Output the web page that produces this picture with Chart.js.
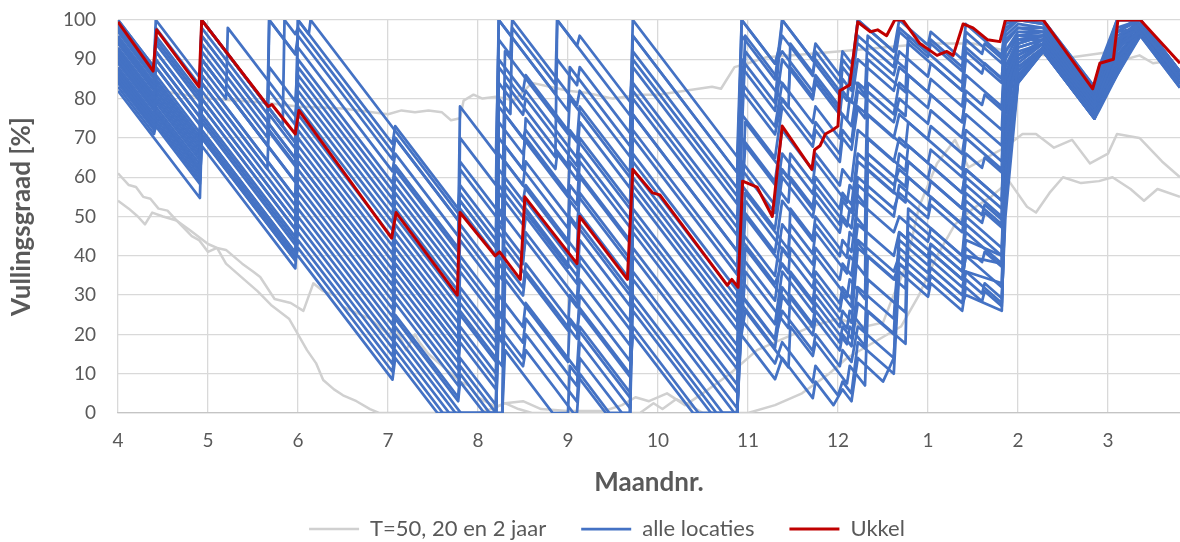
<!DOCTYPE html>
<html>
<head>
<meta charset="utf-8">
<script src="https://cdn.jsdelivr.net/npm/chart.js@4.4.0/dist/chart.umd.min.js"></script>
<style>
  html, body { margin: 0; padding: 0; background: #fff; }
</style>
</head>
<body>
<canvas id="vullingChart" width="1180" height="542"></canvas>
<script>
// Maanden: positie 0 = april (4) ... positie 11 = maart (3)
const maandLabels = ['4', '5', '6', '7', '8', '9', '10', '11', '12', '1', '2', '3'];

// Ukkel [maand, vullingsgraad %]
const ukkel = [[0,99.5],[0.39,87],[0.43,97.5],[0.90,83],[0.93,100],[1.67,78],[1.71,78.5],[1.97,71],[2.01,77],[3.04,44.5],[3.09,51],[3.77,30],[3.80,51],[4.19,40],[4.24,41],[4.47,34],[4.52,55],[5.10,38],[5.13,50],[5.66,34],[5.72,62],[5.94,56],[6.02,55.5],[6.77,32.5],[6.82,34],[6.89,32],[6.94,59],[7.10,57.5],[7.27,50],[7.38,73],[7.71,62],[7.74,67],[7.80,68],[7.86,71],[7.94,72],[8.00,73],[8.02,82],[8.13,83.5],[8.22,99.5],[8.36,97],[8.44,97.5],[8.54,96],[8.63,100],[8.72,100],[8.91,94],[9.10,91],[9.21,92],[9.28,91],[9.39,99],[9.50,98],[9.66,95],[9.80,94.5],[9.86,100],[10.28,100],[10.83,82.5],[10.91,89],[11.06,90],[11.11,100],[11.36,100],[11.80,89]];

// T=50, 20 en 2 jaar
const terugkeer50 = [[0,84],[0.3,83],[0.6,81.5],[1.0,80],[1.3,79.5],[1.6,79],[2.0,78],[2.5,77.5],[3.0,76],[3.15,77],[3.3,76.5],[3.45,77],[3.6,76.5],[3.7,74.5],[3.8,75],[3.84,79.5],[3.95,81],[4.05,80],[4.2,80.5],[4.4,79.5],[4.6,84],[4.8,83],[5.0,82],[5.2,81.5],[5.5,80],[5.8,81],[6.0,81],[6.3,82],[6.6,83],[6.7,82.5],[6.85,88],[7.0,89],[7.2,90.5],[7.5,91],[8.0,92],[8.5,93],[9.0,94],[9.5,94],[9.9,92],[10.3,91],[10.6,90.5],[10.9,91.5],[11.05,92],[11.2,90],[11.35,91],[11.5,89],[11.65,89.5],[11.8,87]];
const terugkeer20 = [[0,61],[0.12,58],[0.2,57.5],[0.28,55],[0.36,54.5],[0.45,52],[0.55,51.5],[0.65,49],[0.8,46.5],[1.0,43],[1.1,42],[1.2,41.5],[1.38,38],[1.5,36],[1.58,34.6],[1.74,29],[1.92,28],[2.06,26],[2.17,33],[2.28,31],[2.4,30],[2.5,27],[2.65,25.5],[2.8,24],[2.9,22],[3.0,20],[3.1,21],[3.2,16],[3.3,20],[3.35,18],[3.45,15],[3.6,12],[3.8,8],[3.9,7],[4.0,4],[4.2,1.5],[4.3,2.5],[4.5,3],[4.7,1],[5.0,0.5],[5.4,0.5],[5.6,2],[5.75,4],[5.9,3],[6.1,5],[6.3,2],[6.5,5],[6.8,10],[7.1,16],[7.4,19],[7.7,22],[8.0,24],[8.3,22],[8.5,23],[8.6,29],[8.75,37],[8.9,52.5],[9.1,63.5],[9.3,69.5],[9.45,62.5],[9.65,65],[9.85,67.5],[10.05,71],[10.2,71],[10.4,67.5],[10.6,69.5],[10.8,63.5],[11.0,66],[11.1,71],[11.35,70],[11.6,64],[11.8,60]];
const terugkeer2 = [[0,54],[0.12,52],[0.22,50],[0.3,48],[0.38,51],[0.5,50],[0.65,49],[0.82,45],[0.9,44],[1.0,41],[1.1,42],[1.2,38],[1.4,34],[1.55,31],[1.7,27.5],[1.9,24],[2.0,20],[2.1,16],[2.2,12.7],[2.28,8.4],[2.4,6],[2.5,4.5],[2.65,3],[2.8,1],[2.9,0],[4.0,0],[4.15,1],[4.3,2.5],[4.45,1],[4.6,0],[5.8,0],[5.95,2.5],[6.05,1],[6.2,3.5],[6.35,2],[6.5,0],[7.0,0],[7.3,2],[7.6,5],[7.9,10],[8.1,14],[8.4,18],[8.7,22],[8.9,30],[9.1,40],[9.3,48],[9.5,52],[9.7,55],[9.9,59],[10.1,52.5],[10.2,51],[10.35,56],[10.5,60],[10.7,58.5],[10.9,59],[11.05,60],[11.25,57],[11.4,54],[11.55,57],[11.8,55]];

// alle locaties
const alleLocaties = [
  [[0,100],[0.40,88],[0.42,100],[0.91,85.3],[0.93,100],[1.97,68.8],[2.00,100],[3.05,68.5],[3.08,73],[3.78,52],[3.80,58],[4.20,46],[4.23,100],[4.86,81.1],[4.88,90],[5.10,83.4],[5.13,88],[5.69,71.2],[5.72,100],[6.88,65.2],[6.93,100],[7.30,88.9],[7.38,96],[7.72,85.8],[7.75,92],[8.02,83.9],[8.05,90],[8.15,87],[8.22,100],[8.62,92],[8.68,100],[9.0,93.6],[9.03,97],[9.38,90],[9.42,99],[9.82,91],[9.86,100],[10.28,100],[10.85,82.9],[10.9,88],[11.1,100],[11.36,100],[11.8,86.8]],
  [[0,98],[0.40,86],[0.42,92],[0.91,77.3],[0.93,100],[1.66,78.1],[1.68,100],[1.97,91.3],[2.00,93],[3.05,61.5],[3.08,66],[3.78,45],[3.80,78],[4.20,66],[4.23,95],[4.36,91.1],[4.38,100],[4.86,85.6],[5.10,78.4],[5.13,82],[5.69,65.2],[5.72,90],[6.88,55.2],[6.93,100],[7.30,88.9],[7.38,92],[7.72,81.8],[7.75,86],[8.02,77.9],[8.05,85],[8.15,82],[8.22,96],[8.62,88],[8.68,97],[9.0,90.6],[9.03,94],[9.38,87],[9.42,95],[9.6,91.4],[9.63,94],[9.82,90.2],[9.86,99],[10.0,100],[10.28,99],[10.85,81.9],[10.9,86],[11.1,97],[11.3,100],[11.8,85]],
  [[0,96],[0.40,84],[0.42,88],[0.91,73.3],[0.93,96],[1.97,64.8],[2.00,100],[2.12,96.4],[2.14,100],[3.05,72.7],[3.78,50.8],[3.80,56],[4.20,44],[4.23,80],[4.36,76.1],[4.38,98],[4.86,83.6],[4.88,100],[5.10,93.4],[5.69,75.7],[5.72,96],[6.88,61.2],[6.93,96],[7.30,84.9],[7.38,100],[7.72,89.8],[8.02,80.8],[8.05,88],[8.15,85],[8.22,100],[8.62,92],[8.68,98],[9.0,91.6],[9.03,95],[9.38,88],[9.42,97],[9.82,89],[9.86,98],[10.0,100],[10.28,100],[10.85,82.9],[11.1,100],[11.3,100],[11.8,85]],
  [[0,95],[0.40,83],[0.42,90],[0.91,75.3],[0.93,92],[1.66,70.1],[1.68,100],[1.97,91.3],[2.00,96],[3.05,64.5],[3.08,70],[3.78,49],[3.80,54],[4.20,42],[4.23,70],[4.50,61.9],[4.53,75],[4.86,65.1],[4.88,100],[5.10,93.4],[5.13,96],[5.69,79.2],[5.72,88],[6.88,53.2],[6.93,90],[7.30,78.9],[7.38,100],[7.72,89.8],[7.75,94],[8.02,85.9],[8.05,92],[8.15,89],[8.22,94],[8.62,86],[8.68,92],[9.0,85.6],[9.03,89],[9.38,82],[9.42,90],[9.6,86.4],[9.63,89],[9.82,85.2],[9.86,95],[10.0,98],[10.28,97],[10.85,79.9],[10.9,85],[11.1,96],[11.36,99],[11.8,85.8]],
  [[0,93],[0.40,81],[0.42,86],[0.91,71.3],[0.93,88],[1.20,79.9],[1.22,98],[1.97,75.5],[2.00,82],[3.05,50.5],[3.08,56],[3.78,35],[3.80,52],[4.20,40],[4.23,90],[4.50,81.9],[4.53,86],[4.86,76.1],[5.10,68.9],[5.13,78],[5.69,61.2],[5.72,96],[6.88,61.2],[6.93,88],[7.30,76.9],[7.38,90],[7.72,79.8],[7.75,84],[8.02,75.9],[8.05,82],[8.15,79],[8.22,90],[8.62,82],[8.68,88],[9.0,81.6],[9.03,85],[9.38,78],[9.42,86],[9.82,78],[9.86,94],[10.0,98],[10.28,98],[10.85,80.9],[10.9,84],[11.1,97],[11.36,98],[11.8,84.8]],
  [[0,92],[0.40,80],[0.42,84],[0.91,69.3],[0.93,100],[1.66,78.1],[1.68,82],[1.97,73.3],[2.00,80],[3.05,48.5],[3.08,54],[3.78,33],[3.80,40],[4.20,28],[4.23,62],[4.50,53.9],[4.53,58],[4.86,48.1],[5.10,40.9],[5.13,60],[5.69,43.2],[5.72,92],[6.88,57.2],[6.93,84],[7.30,72.9],[7.38,84],[7.72,73.8],[7.75,78],[8.02,69.9],[8.05,76],[8.15,73],[8.22,84],[8.62,76],[8.68,84],[9.0,77.6],[9.03,81],[9.38,74],[9.42,82],[9.6,78.4],[9.63,81],[9.82,77.2],[9.86,92],[10.0,96],[10.28,96],[10.85,78.9],[10.9,83],[11.1,95],[11.36,98],[11.8,84.8]],
  [[0,90],[0.40,78],[0.42,83],[0.91,68.3],[0.93,86],[1.97,54.8],[2.00,72],[3.05,40.5],[3.08,46],[3.78,25],[3.80,30],[4.20,18],[4.23,84],[4.50,75.9],[4.53,80],[4.86,70.1],[5.10,62.9],[5.13,70],[5.69,53.2],[5.72,82],[6.88,47.2],[6.93,76],[7.30,64.9],[7.38,78],[7.72,67.8],[7.75,72],[8.02,63.9],[8.05,70],[8.15,67],[8.22,78],[8.62,70],[8.68,76],[9.0,69.6],[9.03,73],[9.38,66],[9.42,72],[9.82,64],[9.86,88],[10.0,95],[10.28,95],[10.85,77.9],[10.9,81],[11.1,93],[11.36,97],[11.8,83.8]],
  [[0,89],[0.40,77],[0.42,80],[0.91,65.3],[0.93,82],[1.97,50.8],[2.00,66],[3.05,34.5],[3.08,40],[3.78,19],[3.80,36],[4.20,24],[4.23,74],[4.50,65.9],[4.53,70],[4.86,60.1],[5.10,52.9],[5.13,64],[5.69,47.2],[5.72,70],[6.88,35.2],[6.93,70],[7.30,58.9],[7.38,72],[7.72,61.8],[7.75,66],[8.02,57.9],[8.05,62],[8.15,59],[8.22,72],[8.62,64],[8.68,70],[9.0,63.6],[9.03,67],[9.38,60],[9.42,66],[9.6,62.4],[9.63,65],[9.82,61.2],[9.86,85],[10.0,93],[10.28,95],[10.85,77.9],[10.9,80],[11.1,90],[11.36,97],[11.8,83.8]],
  [[0,88],[0.40,76],[0.42,79],[0.91,64.3],[0.93,78],[1.97,46.8],[2.00,60],[3.05,28.5],[3.08,34],[3.78,13],[3.80,20],[4.20,8],[4.23,66],[4.50,57.9],[4.53,64],[4.86,54.1],[5.10,46.9],[5.13,56],[5.69,39.2],[5.72,62],[6.88,27.2],[6.93,64],[7.30,52.9],[7.38,66],[7.72,55.8],[7.75,60],[8.02,51.9],[8.05,56],[8.15,53],[8.22,66],[8.62,58],[8.68,62],[9.0,55.6],[9.03,59],[9.38,52],[9.42,58],[9.82,50],[9.86,82],[10.0,92],[10.28,94],[10.85,76.9],[10.9,80],[11.1,89],[11.36,98],[11.8,84.8]],
  [[0,87],[0.40,75],[0.42,77],[0.91,62.3],[0.93,75],[1.97,43.8],[2.00,56],[3.05,24.5],[3.08,30],[3.78,9],[3.80,14],[4.20,2],[4.23,56],[4.50,47.9],[4.53,54],[4.86,44.1],[5.10,36.9],[5.13,48],[5.69,31.2],[5.72,56],[6.88,21.2],[6.93,58],[7.30,46.9],[7.38,60],[7.72,49.8],[7.75,54],[8.02,45.9],[8.05,50],[8.15,47],[8.22,60],[8.62,52],[8.68,56],[9.0,49.6],[9.03,53],[9.38,46],[9.42,52],[9.6,48.4],[9.63,51],[9.82,47.2],[9.86,78],[10.0,90],[10.28,94],[10.85,76.9],[10.9,79],[11.1,88],[11.36,98],[11.8,84.8]],
  [[0,86],[0.40,74],[0.42,76],[0.91,61.3],[0.93,72],[1.97,40.8],[2.00,52],[3.05,20.5],[3.08,25],[3.78,4],[3.80,10],[4.13,0],[4.20,0],[4.23,46],[4.50,37.9],[4.53,46],[4.86,36.1],[5.10,28.9],[5.13,40],[5.69,23.2],[5.72,50],[6.88,15.2],[6.93,52],[7.30,40.9],[7.38,54],[7.72,43.8],[7.75,48],[8.02,39.9],[8.05,44],[8.15,41],[8.22,54],[8.62,46],[8.68,50],[9.0,43.6],[9.03,47],[9.38,40],[9.42,46],[9.82,38],[9.86,70],[10.0,88],[10.28,93],[10.85,75.9],[10.9,78],[11.1,87],[11.36,97],[11.8,83.8]],
  [[0,85],[0.40,73],[0.42,75],[0.91,60.3],[0.93,74],[1.97,42.8],[2.00,46],[3.05,14.5],[3.08,20],[3.75,0],[4.20,0],[4.23,38],[4.50,29.9],[4.53,36],[4.86,26.1],[5.10,18.9],[5.13,30],[5.69,13.2],[5.72,42],[6.88,7.2],[6.93,46],[7.30,34.9],[7.38,48],[7.72,37.8],[7.75,42],[8.02,33.9],[8.05,38],[8.15,35],[8.22,48],[8.62,40],[8.68,46],[9.0,39.6],[9.03,43],[9.38,36],[9.42,42],[9.6,38.4],[9.63,41],[9.82,37.2],[9.86,62],[10.0,86],[10.28,93],[10.85,75.9],[10.9,79],[11.1,88],[11.36,99],[11.8,85.8]],
  [[0,84],[0.40,72],[0.42,74],[0.91,59.3],[0.93,71],[1.97,39.8],[2.00,40],[3.05,8.5],[3.08,14],[3.55,0],[4.20,0],[4.23,30],[4.50,21.9],[4.53,28],[4.86,18.1],[5.10,10.9],[5.13,22],[5.69,5.2],[5.72,36],[6.88,1.2],[6.92,40],[7.30,28.6],[7.38,42],[7.72,31.8],[7.75,36],[8.02,27.9],[8.05,32],[8.15,29],[8.22,44],[8.62,36],[8.68,40],[9.0,33.6],[9.03,37],[9.38,30],[9.42,36],[9.82,28],[9.86,55],[10.0,85],[10.28,92],[10.85,74.9],[10.9,78],[11.1,86],[11.36,96],[11.8,82.8]],
  [[0,82],[0.91,54.7],[0.93,70],[1.97,38.8],[2.00,44],[3.05,12.5],[3.08,18],[3.68,0],[4.20,0],[4.23,22],[4.50,13.9],[4.53,20],[4.86,10.1],[5.10,2.9],[5.13,14],[5.60,0],[5.69,0],[5.72,28],[6.65,0],[6.88,0],[6.92,34],[7.30,22.6],[7.38,36],[7.72,25.8],[7.75,30],[8.02,21.9],[8.05,26],[8.15,23],[8.22,42],[8.62,34],[8.68,38],[9.0,31.6],[9.03,35],[9.38,28],[9.42,34],[9.6,30.4],[9.63,33],[9.82,29.2],[9.86,50],[10.0,84],[10.28,92],[10.85,74.9],[10.9,77],[11.1,86],[11.36,97],[11.8,83.8]],
  [[0,91],[0.40,79],[0.42,82],[0.91,67.3],[0.93,80],[1.97,48.8],[2.00,62],[3.05,30.5],[3.08,36],[3.78,15],[3.80,22],[4.20,10],[4.23,40],[4.50,31.9],[4.53,38],[4.86,28.1],[5.10,20.9],[5.13,26],[5.69,9.2],[5.72,22],[6.45,0],[6.88,0],[6.92,30],[7.30,18.6],[7.38,26],[7.72,15.8],[7.75,20],[8.02,11.9],[8.05,16],[8.15,13],[8.22,22],[8.62,14],[8.68,38],[9.0,31.6],[9.03,35],[9.38,28],[9.42,30],[9.82,26],[9.86,60],[10.0,85],[10.28,93],[10.85,75.9],[10.9,80],[11.1,89],[11.36,98],[11.8,84.8]],
  [[0,94],[0.40,82],[0.42,85],[0.91,70.3],[0.93,84],[1.97,52.8],[2.00,70],[3.05,38.5],[3.08,44],[3.78,23],[3.80,28],[4.20,16],[4.23,48],[4.50,39.9],[4.53,44],[4.86,34.1],[5.10,26.9],[5.13,34],[5.69,17.2],[5.72,30],[6.72,0],[6.88,0],[6.92,24],[7.30,12.6],[7.38,18],[7.72,7.8],[7.75,12],[8.0,4.5],[8.05,8],[8.15,5],[8.22,18],[8.62,10],[8.68,36],[9.0,29.6],[9.03,33],[9.38,26],[9.42,32],[9.6,28.4],[9.63,31],[9.82,27.2],[9.86,56],[10.0,84],[10.28,92],[10.85,74.9],[10.9,78],[11.1,87],[11.36,97],[11.8,83.8]],
  [[0,97],[0.40,85],[0.42,95],[0.91,80.3],[0.93,100],[1.83,73],[1.85,100],[1.97,96.4],[2.00,98],[3.05,66.5],[3.08,70],[3.78,49],[3.80,54],[4.20,42],[4.23,58],[4.50,49.9],[4.53,52],[4.86,42.1],[5.10,34.9],[5.13,38],[5.69,21.2],[5.72,26],[6.59,0],[6.88,0],[6.92,20],[7.30,8.6],[7.38,14],[7.72,3.8],[7.75,8],[7.95,2],[8.05,6],[8.15,3],[8.22,14],[8.50,8],[8.62,14],[8.68,42],[9.0,35.6],[9.03,39],[9.38,32],[9.42,36],[9.82,33],[9.86,66],[10.0,90],[10.28,94],[10.85,76.9],[10.9,81],[11.1,90],[11.36,98],[11.8,84.8]],
  [[0,99],[0.40,87],[0.42,98],[0.91,83.3],[0.93,90],[1.97,58.8],[2.00,64],[3.05,32.5],[3.08,38],[3.78,17],[3.80,25],[4.20,13],[4.23,20],[4.50,11.9],[4.53,16],[4.86,6.1],[5.06,0],[5.10,0],[5.13,10],[5.46,0],[5.69,0],[5.72,60],[6.88,25.2],[6.93,30],[7.30,18.9],[7.38,32],[7.72,21.8],[7.75,26],[8.02,17.9],[8.05,22],[8.15,19],[8.22,32],[8.62,24],[8.68,44],[9.0,37.6],[9.03,41],[9.38,34],[9.42,40],[9.82,38],[9.86,72],[10.0,94],[10.28,96],[10.85,78.9],[10.9,82],[11.1,93],[11.36,99],[11.8,85.8]],
  [[0,91.5],[0.40,79.5],[0.42,81],[0.91,66.3],[0.93,90],[1.66,68.1],[1.68,72],[1.97,63.3],[2.00,76],[3.05,44.5],[3.08,50],[3.78,29],[3.80,44],[4.20,32],[4.23,88],[4.50,79.9],[4.53,82],[4.86,72.1],[5.10,64.9],[5.13,74],[5.69,57.2],[5.72,76],[6.88,41.2],[6.93,82],[7.30,70.9],[7.38,80],[7.72,69.8],[7.75,74],[8.02,65.9],[8.05,72],[8.15,69],[8.22,82],[8.62,74],[8.68,80],[9.0,73.6],[9.03,77],[9.38,70],[9.42,76],[9.82,68],[9.86,90],[10.0,96],[10.28,97],[10.85,79.9],[10.9,84],[11.1,94],[11.36,99],[11.8,85.8]],
  [[0,86.5],[0.40,74.5],[0.42,78],[0.91,63.3],[0.93,76],[1.97,44.8],[2.00,58],[3.05,26.5],[3.08,32],[3.78,11],[3.80,18],[4.20,6],[4.23,52],[4.50,43.9],[4.53,50],[4.86,40.1],[5.10,32.9],[5.13,44],[5.69,27.2],[5.72,46],[6.88,11.2],[6.93,44],[7.30,32.9],[7.38,38],[7.72,27.8],[7.75,34],[8.02,25.9],[8.05,30],[8.15,27],[8.22,58],[8.62,50],[8.68,58],[9.0,51.6],[9.03,55],[9.38,48],[9.42,54],[9.6,50.4],[9.63,53],[9.82,49.2],[9.86,80],[10.0,91],[10.28,94],[10.85,76.9],[10.9,80],[11.1,90],[11.36,98],[11.8,84.8]],
  [[0,97.5],[0.40,85.5],[0.42,90],[0.91,75.3],[0.93,94],[1.97,62.8],[2.00,88],[3.05,56.5],[3.08,62],[3.78,41],[3.80,46],[4.20,34],[4.23,78],[4.50,69.9],[4.53,72],[4.86,62.1],[4.88,66],[5.10,59.4],[5.13,66],[5.69,49.2],[5.72,76],[6.88,41.2],[6.93,62],[7.30,50.9],[7.38,62],[7.72,51.8],[7.75,56],[8.02,47.9],[8.05,54],[8.15,51],[8.22,64],[8.62,56],[8.68,66],[9.0,59.6],[9.03,63],[9.38,56],[9.42,62],[9.82,54],[9.86,86],[10.0,95],[10.28,96],[10.85,78.9],[10.9,83],[11.1,94],[11.36,100],[11.8,86.8]],
  [[0,83],[0.40,71],[0.42,73],[0.91,58.3],[0.93,70],[1.97,38.8],[2.00,42],[3.05,10.5],[3.08,16],[3.61,0],[4.20,0],[4.23,26],[4.50,17.9],[4.53,24],[4.86,14.1],[5.10,6.9],[5.13,18],[5.69,1.2],[5.72,34],[6.85,0],[6.88,0],[6.92,28],[7.30,16.6],[7.38,30],[7.72,19.8],[7.75,24],[8.02,15.9],[8.05,20],[8.15,17],[8.22,28],[8.62,20],[8.68,46],[9.0,39.6],[9.03,43],[9.38,36],[9.42,44],[9.82,40],[9.86,64],[10.0,87],[10.28,93],[10.85,75.9],[10.9,79],[11.1,88],[11.36,97],[11.8,83.8]],
  [[0,100],[0.40,88],[0.42,94],[0.91,79.3],[0.93,98],[1.66,76.1],[1.68,88],[1.97,79.3],[2.00,90],[3.05,58.5],[3.08,63],[3.78,42],[3.80,64],[4.27,49.9],[4.30,92],[4.86,75.2],[5.0,71],[5.02,80],[5.69,59.9],[5.72,84],[6.88,49.2],[6.97,96],[7.45,81.6],[7.47,88],[7.72,80.5],[7.75,85],[8.10,74.5],[8.13,80],[8.30,75],[8.33,90],[8.75,81.6],[8.78,96],[9.38,84],[9.42,93],[9.82,85],[9.86,97],[10.0,100],[10.28,99],[10.85,81.9],[10.9,87],[11.1,98],[11.36,100],[11.8,86.8]],
  [[0,94.5],[0.40,82.5],[0.42,84],[0.91,69.3],[0.93,86],[1.97,54.8],[2.00,68],[3.05,36.5],[3.08,42],[3.78,21],[3.80,26],[4.27,11.9],[4.30,58],[4.86,41.2],[5.0,37],[5.02,50],[5.69,29.9],[5.72,52],[6.88,17.2],[6.97,50],[7.45,35.6],[7.47,42],[7.72,34.5],[7.75,40],[8.10,29.5],[8.13,34],[8.30,29],[8.33,62],[8.75,53.6],[8.78,60],[9.38,48],[9.42,56],[9.82,48],[9.86,76],[10.0,91],[10.28,95],[10.85,77.9],[10.9,81],[11.1,91],[11.36,98],[11.8,84.8]],
  [[0,89.5],[0.40,77.5],[0.42,80],[0.91,65.3],[0.93,80],[1.97,48.8],[2.00,64],[3.05,32.5],[3.08,38],[3.78,17],[3.80,32],[4.27,17.9],[4.30,68],[4.86,51.2],[5.0,47],[5.02,58],[5.69,37.9],[5.72,66],[6.88,31.2],[6.97,56],[7.45,41.6],[7.47,48],[7.72,40.5],[7.75,46],[8.10,35.5],[8.13,40],[8.30,35],[8.33,70],[8.75,61.6],[8.78,68],[9.38,56],[9.42,62],[9.82,54],[9.86,84],[10.0,94],[10.28,96],[10.85,78.9],[10.9,82],[11.1,92],[11.36,99],[11.8,85.8]],
  [[0,87.5],[0.40,75.5],[0.42,77],[0.91,62.3],[0.93,78],[1.97,46.8],[2.00,54],[3.05,22.5],[3.08,28],[3.78,7],[3.80,12],[4.20,0],[4.27,0],[4.30,34],[4.86,17.2],[5.0,13],[5.02,24],[5.69,3.9],[5.72,40],[6.88,5.2],[6.97,36],[7.45,21.6],[7.47,30],[7.72,22.5],[7.75,28],[8.10,17.5],[8.13,22],[8.30,17],[8.33,40],[8.75,31.6],[8.78,50],[9.38,38],[9.42,48],[9.82,40],[9.86,68],[10.0,89],[10.28,94],[10.85,76.9],[10.9,80],[11.1,89],[11.36,98],[11.8,84.8]],
  [[0,98.5],[0.40,86.5],[0.42,96],[0.91,81.3],[0.93,100],[1.97,68.8],[2.00,84],[3.05,52.5],[3.08,58],[3.78,37],[3.80,70],[4.20,58],[4.23,100],[4.86,81.1],[5.0,76.9],[5.02,88],[5.69,67.9],[5.72,80],[6.88,45.2],[6.97,92],[7.45,77.6],[7.47,94],[7.72,86.5],[7.75,90],[8.10,79.5],[8.13,86],[8.30,81],[8.33,96],[8.75,87.6],[8.78,94],[9.38,82],[9.42,92],[9.82,84],[9.86,96],[10.0,99],[10.28,98],[10.85,80.9],[10.9,86],[11.1,97],[11.36,100],[11.8,86.8]],
  [[0,90.5],[0.40,78.5],[0.42,82],[0.91,67.3],[0.93,84],[1.66,62.1],[1.68,76],[1.97,67.3],[2.00,78],[3.05,46.5],[3.08,52],[3.78,31],[3.80,48],[4.27,33.9],[4.30,76],[4.86,59.2],[5.0,55],[5.02,64],[5.69,43.9],[5.72,72],[6.88,37.2],[6.97,68],[7.45,53.6],[7.47,60],[7.72,52.5],[7.75,58],[8.10,47.5],[8.13,52],[8.30,47],[8.33,76],[8.75,67.6],[8.78,74],[9.38,62],[9.42,70],[9.82,62],[9.86,86],[10.0,95],[10.28,96],[10.85,78.9],[10.9,83],[11.1,93],[11.36,99],[11.8,85.8]],
  [[0,85.5],[0.40,73.5],[0.42,76],[0.91,61.3],[0.93,72],[1.97,40.8],[2.00,50],[3.05,18.5],[3.08,24],[3.78,3],[3.80,8],[4.07,0],[4.27,0],[4.30,42],[4.86,25.2],[5.0,21],[5.02,30],[5.69,9.9],[5.72,20],[6.39,0],[6.88,0],[6.97,42],[7.45,27.6],[7.47,36],[7.72,28.5],[7.75,32],[8.10,21.5],[8.13,26],[8.30,21],[8.33,34],[8.75,25.6],[8.78,52],[9.38,40],[9.42,50],[9.82,42],[9.86,70],[10.0,88],[10.28,93],[10.85,75.9],[10.9,79],[11.1,88],[11.36,97],[11.8,83.8]],
  [[0,92.5],[0.40,80.5],[0.42,88],[0.91,73.3],[0.93,96],[1.97,64.8],[2.00,74],[3.05,42.5],[3.08,48],[3.78,27],[3.80,38],[4.27,23.9],[4.30,64],[4.86,47.2],[5.0,43],[5.02,54],[5.69,33.9],[5.72,58],[6.88,23.2],[6.97,54],[7.45,39.6],[7.47,52],[7.72,44.5],[7.75,50],[8.10,39.5],[8.13,46],[8.30,41],[8.33,66],[8.75,57.6],[8.78,64],[9.38,52],[9.42,60],[9.82,52],[9.86,82],[10.0,93],[10.28,95],[10.85,77.9],[10.9,81],[11.1,91],[11.36,98],[11.8,84.8]],
  [[0,84.5],[0.40,72.5],[0.42,74],[0.91,59.3],[0.93,68],[1.97,36.8],[2.00,48],[3.05,16.5],[3.08,22],[3.81,0],[4.27,0],[4.30,16],[4.83,0],[5.0,0],[5.02,12],[5.42,0],[5.69,0],[5.72,48],[6.88,13.2],[6.97,26],[7.45,11.6],[7.47,22],[7.72,14.5],[7.75,18],[8.10,7.5],[8.13,12],[8.30,7],[8.33,26],[8.75,17.6],[8.78,46],[9.38,34],[9.42,40],[9.82,32],[9.86,58],[10.0,86],[10.28,92],[10.85,74.9],[10.9,78],[11.1,87],[11.36,96],[11.8,82.8]],
  [[0,95.5],[0.40,83.5],[0.42,92],[0.91,77.3],[0.93,90],[1.97,58.8],[2.00,86],[3.05,54.5],[3.08,60],[3.78,39],[3.80,62],[4.27,47.9],[4.30,84],[4.86,67.2],[5.0,63],[5.02,72],[5.69,51.9],[5.72,64],[6.88,29.2],[6.97,74],[7.45,59.6],[7.47,66],[7.72,58.5],[7.75,64],[8.10,53.5],[8.13,58],[8.30,53],[8.33,84],[8.75,75.6],[8.78,86],[9.38,74],[9.42,80],[9.82,72],[9.86,92],[10.0,97],[10.28,97],[10.85,79.9],[10.9,84],[11.1,95],[11.36,100],[11.8,86.8]]
];

const tekstKleur = '#595959';
const lettertype = 'Lato, "Open Sans", sans-serif';
const grijs = '#d0d0d0';
const blauw = '#4472c4';
const rood = '#c00000';

const datasets = [];
[terugkeer50, terugkeer20, terugkeer2].forEach((punten, i) => {
    datasets.push({
        label: 'T=50, 20 en 2 jaar', inLegend: i === 0, data: punten,
        borderColor: grijs, backgroundColor: grijs, borderWidth: 2.5, order: 3
    });
});
alleLocaties.forEach((punten, i) => {
    datasets.push({
        label: 'alle locaties', inLegend: i === 0, data: punten,
        borderColor: blauw, backgroundColor: blauw, borderWidth: 2.75, order: 2
    });
});
datasets.push({
    label: 'Ukkel', inLegend: true, data: ukkel,
    borderColor: rood, backgroundColor: rood, borderWidth: 3, order: 1
});

// legenda iets naar rechts, zoals in het origineel
const legendaVerschuiving = {
    id: 'legendaVerschuiving',
    afterLayout(chart) {
        if (chart.legend) chart.legend.left += 34;
    }
};

new Chart(document.getElementById('vullingChart'), {
    type: 'line',
    data: { datasets: datasets },
    plugins: [legendaVerschuiving],
    options: {
        responsive: false,
        animation: false,
        devicePixelRatio: 1,
        elements: {
            point: { radius: 0, hoverRadius: 0 },
            line: { tension: 0, fill: false, borderJoinStyle: 'round' }
        },
        layout: { padding: { top: 20, right: 0, bottom: -8, left: 0 } },
        scales: {
            x: {
                type: 'linear',
                min: 0,
                max: 11.8,
                afterBuildTicks: scale => {
                    scale.ticks = maandLabels.map((_, i) => ({ value: i }));
                },
                afterFit: scale => { scale.height = 70; },
                ticks: {
                    callback: value => maandLabels[value],
                    autoSkip: false,
                    maxRotation: 0,
                    padding: 16,
                    color: tekstKleur,
                    font: { family: lettertype, size: 19 }
                },
                grid: { color: '#d9d9d9', lineWidth: 1.3, drawTicks: false },
                border: { color: '#c4c4c4', width: 1.3 },
                title: {
                    display: true,
                    text: 'Maandnr.',
                    color: tekstKleur,
                    font: { family: lettertype, size: 26, weight: 'bold' },
                    padding: { top: 0, bottom: -15.6 }
                }
            },
            y: {
                min: 0,
                max: 100,
                afterFit: scale => { scale.width = 118; },
                ticks: {
                    stepSize: 10,
                    padding: 0,
                    color: tekstKleur,
                    font: { family: lettertype, size: 19 }
                },
                grid: { color: '#d9d9d9', lineWidth: 1.3, drawTicks: true, tickLength: 22, tickColor: 'rgba(0,0,0,0)' },
                border: { display: false },
                title: {
                    display: true,
                    text: 'Vullingsgraad [%]',
                    color: tekstKleur,
                    font: { family: lettertype, size: 26, weight: 'bold' },
                    padding: { top: 6, bottom: 0 }
                }
            }
        },
        plugins: {
            tooltip: { enabled: false },
            legend: {
                position: 'bottom',
                labels: {
                    usePointStyle: true,
                    pointStyle: 'line',
                    pointStyleWidth: 50,
                    padding: 35,
                    color: tekstKleur,
                    font: { family: lettertype, size: 22 },
                    filter: (item, data) => data.datasets[item.datasetIndex].inLegend,
                    sort: (a, b) => a.datasetIndex - b.datasetIndex
                }
            }
        }
    }
});
</script>
</body>
</html>
